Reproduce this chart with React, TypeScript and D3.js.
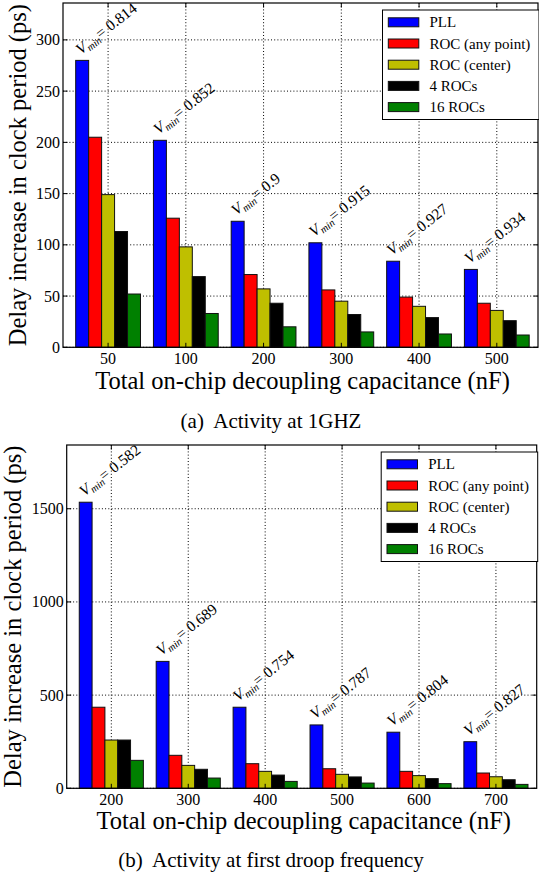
import React from "react";
import * as d3 from "d3";

const seriesNames = ["PLL", "ROC (any point)", "ROC (center)", "4 ROCs", "16 ROCs"];
const seriesColors = ["#0000ff", "#ff0000", "#bfbf00", "#000000", "#008000"];

const capsTop = ["50", "100", "200", "300", "400", "500"];
const pllTop = [280, 202, 123, 102, 84, 76];
const rocAnyTop = [205, 126, 71, 56, 49, 43];
const rocCenterTop = [149, 98, 57, 45, 40, 36];
const roc4Top = [113, 69, 43, 32, 29, 26];
const roc16Top = [52, 33, 20, 15, 13, 12];
const vminTop = ["0.814", "0.852", "0.9", "0.915", "0.927", "0.934"];
const yTicksTop = [0, 50, 100, 150, 200, 250, 300];

const capsBottom = ["200", "300", "400", "500", "600", "700"];
const pllBottom = [1535, 681, 435, 340, 301, 250];
const rocAnyBottom = [435, 177, 132, 105, 91, 82];
const rocCenterBottom = [259, 123, 91, 75, 68, 62];
const roc4Bottom = [259, 102, 71, 61, 52, 46];
const roc16Bottom = [150, 55, 37, 28, 25, 21];
const vminBottom = ["0.582", "0.689", "0.754", "0.787", "0.804", "0.827"];
const yTicksBottom = [0, 500, 1000, 1500];

const xTitle = "Total on-chip decoupling capacitance (nF)";
const yTitle = "Delay increase in clock period (ps)";
const captionTop = "(a)  Activity at 1GHZ";
const captionBottom = "(b)  Activity at first droop frequency";

const FONT = "\"Liberation Serif\", \"DejaVu Serif\", serif";

type ChartProps = {
  left: number; right: number; top: number; bottom: number;
  cats: string[]; series: number[][]; vmin: string[]; yTicks: number[];
  yLabelX: number; caption: string; titleY: number; captionY: number; tickLabelY: number;
};

function Chart(p: ChartProps) {
  const x = d3.scaleLinear().domain([-0.58, 5.53]).range([p.left, p.right]);
  const ymax = 1.2 * (d3.max(p.series[0]) as number);
  const y = d3.scaleLinear().domain([0, ymax]).range([p.bottom, p.top]);
  const unit = x(1) - x(0);
  const bw = unit / 6;
  const tick = 4.5;
  const legTop = p.top + 7;
  const legRight = p.right + 1;
  const legLeft = legRight - 156.5;
  const rowH = 21.2;
  return (
    <g style={{ fontFamily: FONT }}>
      {p.yTicks.map((t) => (
        <line key={"gy" + t} x1={p.left} x2={p.right} y1={y(t)} y2={y(t)} stroke="#000" strokeWidth={1} strokeDasharray="1,2.2" />
      ))}
      {p.cats.map((c, i) => (
        <line key={"gx" + c} x1={x(i)} x2={x(i)} y1={p.top} y2={p.bottom} stroke="#000" strokeWidth={1} strokeDasharray="1,2.2" />
      ))}
      {p.series.map((s, si) =>
        s.map((v, i) => (
          <rect key={si + "-" + i}
            x={x(i) - 2.5 * bw + si * bw} y={y(v)} width={bw} height={p.bottom - y(v)}
            fill={seriesColors[si]} stroke="#111" strokeWidth={1} />
        ))
      )}
      {p.vmin.map((v, i) => {
        const ax = x(i) - 2.5 * bw + 5;
        const ay = y(p.series[0][i]) - 5.5;
        return (
          <text key={"an" + i} x={ax} y={ay} transform={`rotate(-38 ${ax} ${ay})`} fontSize={15.5} fill="#000">
            <tspan fontStyle="italic">V</tspan>
            <tspan fontStyle="italic" fontSize={10.5} dy={3}>min</tspan>
            <tspan dy={-3}>= {v}</tspan>
          </text>
        );
      })}
      <rect x={p.left} y={p.top} width={p.right - p.left} height={p.bottom - p.top} fill="none" stroke="#000" strokeWidth={1.2} />
      {p.yTicks.map((t) => (
        <g key={"ty" + t}>
          <line x1={p.left} x2={p.left + tick} y1={y(t)} y2={y(t)} stroke="#000" />
          <line x1={p.right} x2={p.right - tick} y1={y(t)} y2={y(t)} stroke="#000" />
          <text x={p.left - 3} y={y(t) + 5.5} textAnchor="end" fontSize={16} fill="#000">{t}</text>
        </g>
      ))}
      {p.cats.map((c, i) => (
        <g key={"tx" + c}>
          <line x1={x(i)} x2={x(i)} y1={p.bottom} y2={p.bottom - tick} stroke="#000" />
          <line x1={x(i)} x2={x(i)} y1={p.top} y2={p.top + tick} stroke="#000" />
          <text x={x(i)} y={p.tickLabelY} textAnchor="middle" fontSize={16} fill="#000">{c}</text>
        </g>
      ))}
      <rect x={legLeft} y={legTop} width={legRight - legLeft} height={109.5} fill="#fff" stroke="#000" strokeWidth={1} />
      {seriesNames.map((n, si) => {
        const cy = legTop + 12.3 + si * rowH;
        return (
          <g key={"lg" + n}>
            <rect x={legLeft + 5.8} y={cy - 4.5} width={30.5} height={9} fill={seriesColors[si]} stroke="#111" strokeWidth={1} />
            <text x={legLeft + 47} y={cy + 5} fontSize={15} fill="#000">{n}</text>
          </g>
        );
      })}
      <text x={(p.left + p.right) / 2 + 2} y={p.titleY} textAnchor="middle" fontSize={24.5} fill="#000">{xTitle}</text>
      <text transform={`translate(${p.yLabelX},${(p.top + p.bottom) / 2}) rotate(-90)`} textAnchor="middle" fontSize={24.5} fill="#000">{yTitle}</text>
      <text x={271} y={p.captionY} textAnchor="middle" fontSize={21} fill="#000" style={{ whiteSpace: "pre" }}>{p.caption}</text>
    </g>
  );
}

export default function App() {
  return (
    <svg width={539} height={877} style={{ position: "absolute", left: 0, top: 0, background: "#fff" }}>
      <rect x={0} y={0} width={539} height={877} fill="#fff" />
      <Chart left={63} right={538} top={3} bottom={347.3}
        cats={capsTop} series={[pllTop, rocAnyTop, rocCenterTop, roc4Top, roc16Top]}
        vmin={vminTop} yTicks={yTicksTop} yLabelX={25.5} caption={captionTop}
        titleY={389} captionY={427.5} tickLabelY={363.5} />
      <Chart left={66.7} right={536.7} top={445} bottom={788.3}
        cats={capsBottom} series={[pllBottom, rocAnyBottom, rocCenterBottom, roc4Bottom, roc16Bottom]}
        vmin={vminBottom} yTicks={yTicksBottom} yLabelX={21} caption={captionBottom}
        titleY={829} captionY={866.5} tickLabelY={805} />
    </svg>
  );
}
